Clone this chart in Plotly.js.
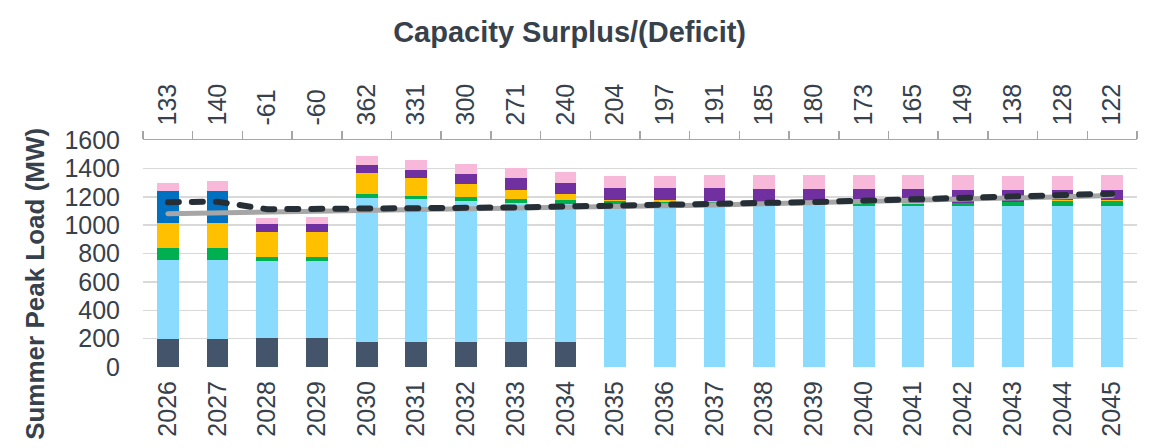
<!DOCTYPE html>
<html>
<head>
<meta charset="utf-8">
<script src="https://cdn.plot.ly/plotly-3.0.1.min.js"></script>
<style>
  html, body { margin: 0; padding: 0; background: #fff; }
  #chart { width: 1153px; height: 448px; }
  .js-line { stroke-linecap: round; }
</style>
</head>
<body>
<div id="chart"></div>
<script>
const years = ["2026","2027","2028","2029","2030","2031","2032","2033","2034","2035",
               "2036","2037","2038","2039","2040","2041","2042","2043","2044","2045"];
const surplusLabels = ["133","140","-61","-60","362","331","300","271","240","204",
                       "197","191","185","180","173","165","149","138","128","122"];

const resDark      = [200,200,207,207,179,179,179,179,179,0,0,0,0,0,0,0,0,0,0,0];
const resLightBlue = [556,556,540,540,1013,1002,989,976,971,1150,1148,1146,1144,1142,1138,1138,1138,1138,1138,1138];
const resGreen     = [82,82,28,28,26,26,27,28,24,19,18,14,11,10,12,13,17,24,31,32];
const resYellow    = [174,174,178,178,148,122,96,68,42,10,10,8,7,5,5,4,4,4,5,6];
const resBlue      = [228,228,0,0,0,0,0,0,0,0,0,0,0,0,0,0,0,0,0,0];
const resPurple    = [0,0,54,54,61,63,71,78,82,84,89,93,95,100,97,97,92,84,77,73];
const resPink      = [60,73,45,49,59,66,72,77,80,83,83,91,99,99,104,104,99,98,97,101];

const loadLine     = [1080,1087,1095,1103,1108,1112,1116,1120,1124,1128,1134,1142,1150,1158,1166,1174,1181,1189,1198,1208];
const reqLine      = [1162,1165,1112,1112,1114,1118,1122,1125,1130,1138,1144,1150,1157,1163,1172,1180,1188,1198,1210,1222];

const textColor = "#37414b";
const fontFam = "Liberation Sans, Arial, sans-serif";

function barTrace(name, vals, color) {
  return { type: "bar", name: name, x: years, y: vals,
           marker: { color: color, line: { width: 0 } }, hoverinfo: "x+y+name" };
}

const traces = [
  barTrace("Existing", resDark, "#44546A"),
  barTrace("Contracted", resLightBlue, "#8ADBFD"),
  barTrace("Green", resGreen, "#00B050"),
  barTrace("Yellow", resYellow, "#FFC000"),
  barTrace("Blue", resBlue, "#0070C0"),
  barTrace("Purple", resPurple, "#7030A0"),
  barTrace("Pink", resPink, "#F8B8DA"),
  { type: "scatter", mode: "lines", name: "Peak Load", x: years, y: loadLine,
    line: { color: "#A6A6A6", width: 5 } },
  { type: "scatter", mode: "lines", name: "Peak Load + Reserve", x: years, y: reqLine,
    line: { color: "#262E36", width: 6, dash: "11px,13px" } },
  { type: "scatter", mode: "markers", x: years, y: years.map(() => 0), xaxis: "x2",
    marker: { opacity: 0 }, hoverinfo: "skip", showlegend: false }
];

const layout = {
  width: 1153, height: 448,
  margin: { l: 143, r: 16, t: 140, b: 81 },
  paper_bgcolor: "#fff", plot_bgcolor: "#fff",
  barmode: "stack", bargap: 0.56,
  showlegend: false,
  font: { family: fontFam, color: textColor, size: 25 },
  title: { text: "<b>Capacity Surplus/(Deficit)</b>", x: 0.494, xanchor: "center",
           y: 0.93, yanchor: "middle",
           font: { family: fontFam, size: 29, color: textColor } },
  xaxis: { type: "category", categoryarray: years, range: [-0.5, 19.5],
           tickangle: -90, showline: false, ticks: "", showgrid: false,
           ticklabelstandoff: 8,
           tickfont: { size: 25, color: textColor, family: fontFam } },
  xaxis2: { type: "category", categoryarray: years, range: [-0.5, 19.5],
            overlaying: "x", side: "top", anchor: "y",
            tickvals: years, ticktext: surplusLabels, tickangle: -90,
            tickson: "boundaries", ticks: "outside", ticklen: 8, tickwidth: 1.5,
            tickcolor: "#A6A6A6", showline: true, linecolor: "#A6A6A6", linewidth: 1.5,
            showgrid: false, ticklabelstandoff: 8,
            tickfont: { size: 25, color: textColor, family: fontFam } },
  yaxis: { range: [0, 1600], dtick: 200, showgrid: true, gridcolor: "#D9D9D9", gridwidth: 1.5,
           zeroline: false, showline: false, ticks: "", ticklabelstandoff: 22,
           tickfont: { size: 25, color: textColor, family: fontFam } },
  annotations: [
    { text: "<b>Summer Peak Load (MW)</b>", textangle: -90, xref: "paper", yref: "paper",
      x: -0.1087, y: 0.366, xanchor: "center", yanchor: "middle", showarrow: false,
      font: { family: fontFam, size: 26, color: textColor } }
  ]
};

Plotly.newPlot("chart", traces, layout, { displayModeBar: false, staticPlot: true });
</script>
</body>
</html>
